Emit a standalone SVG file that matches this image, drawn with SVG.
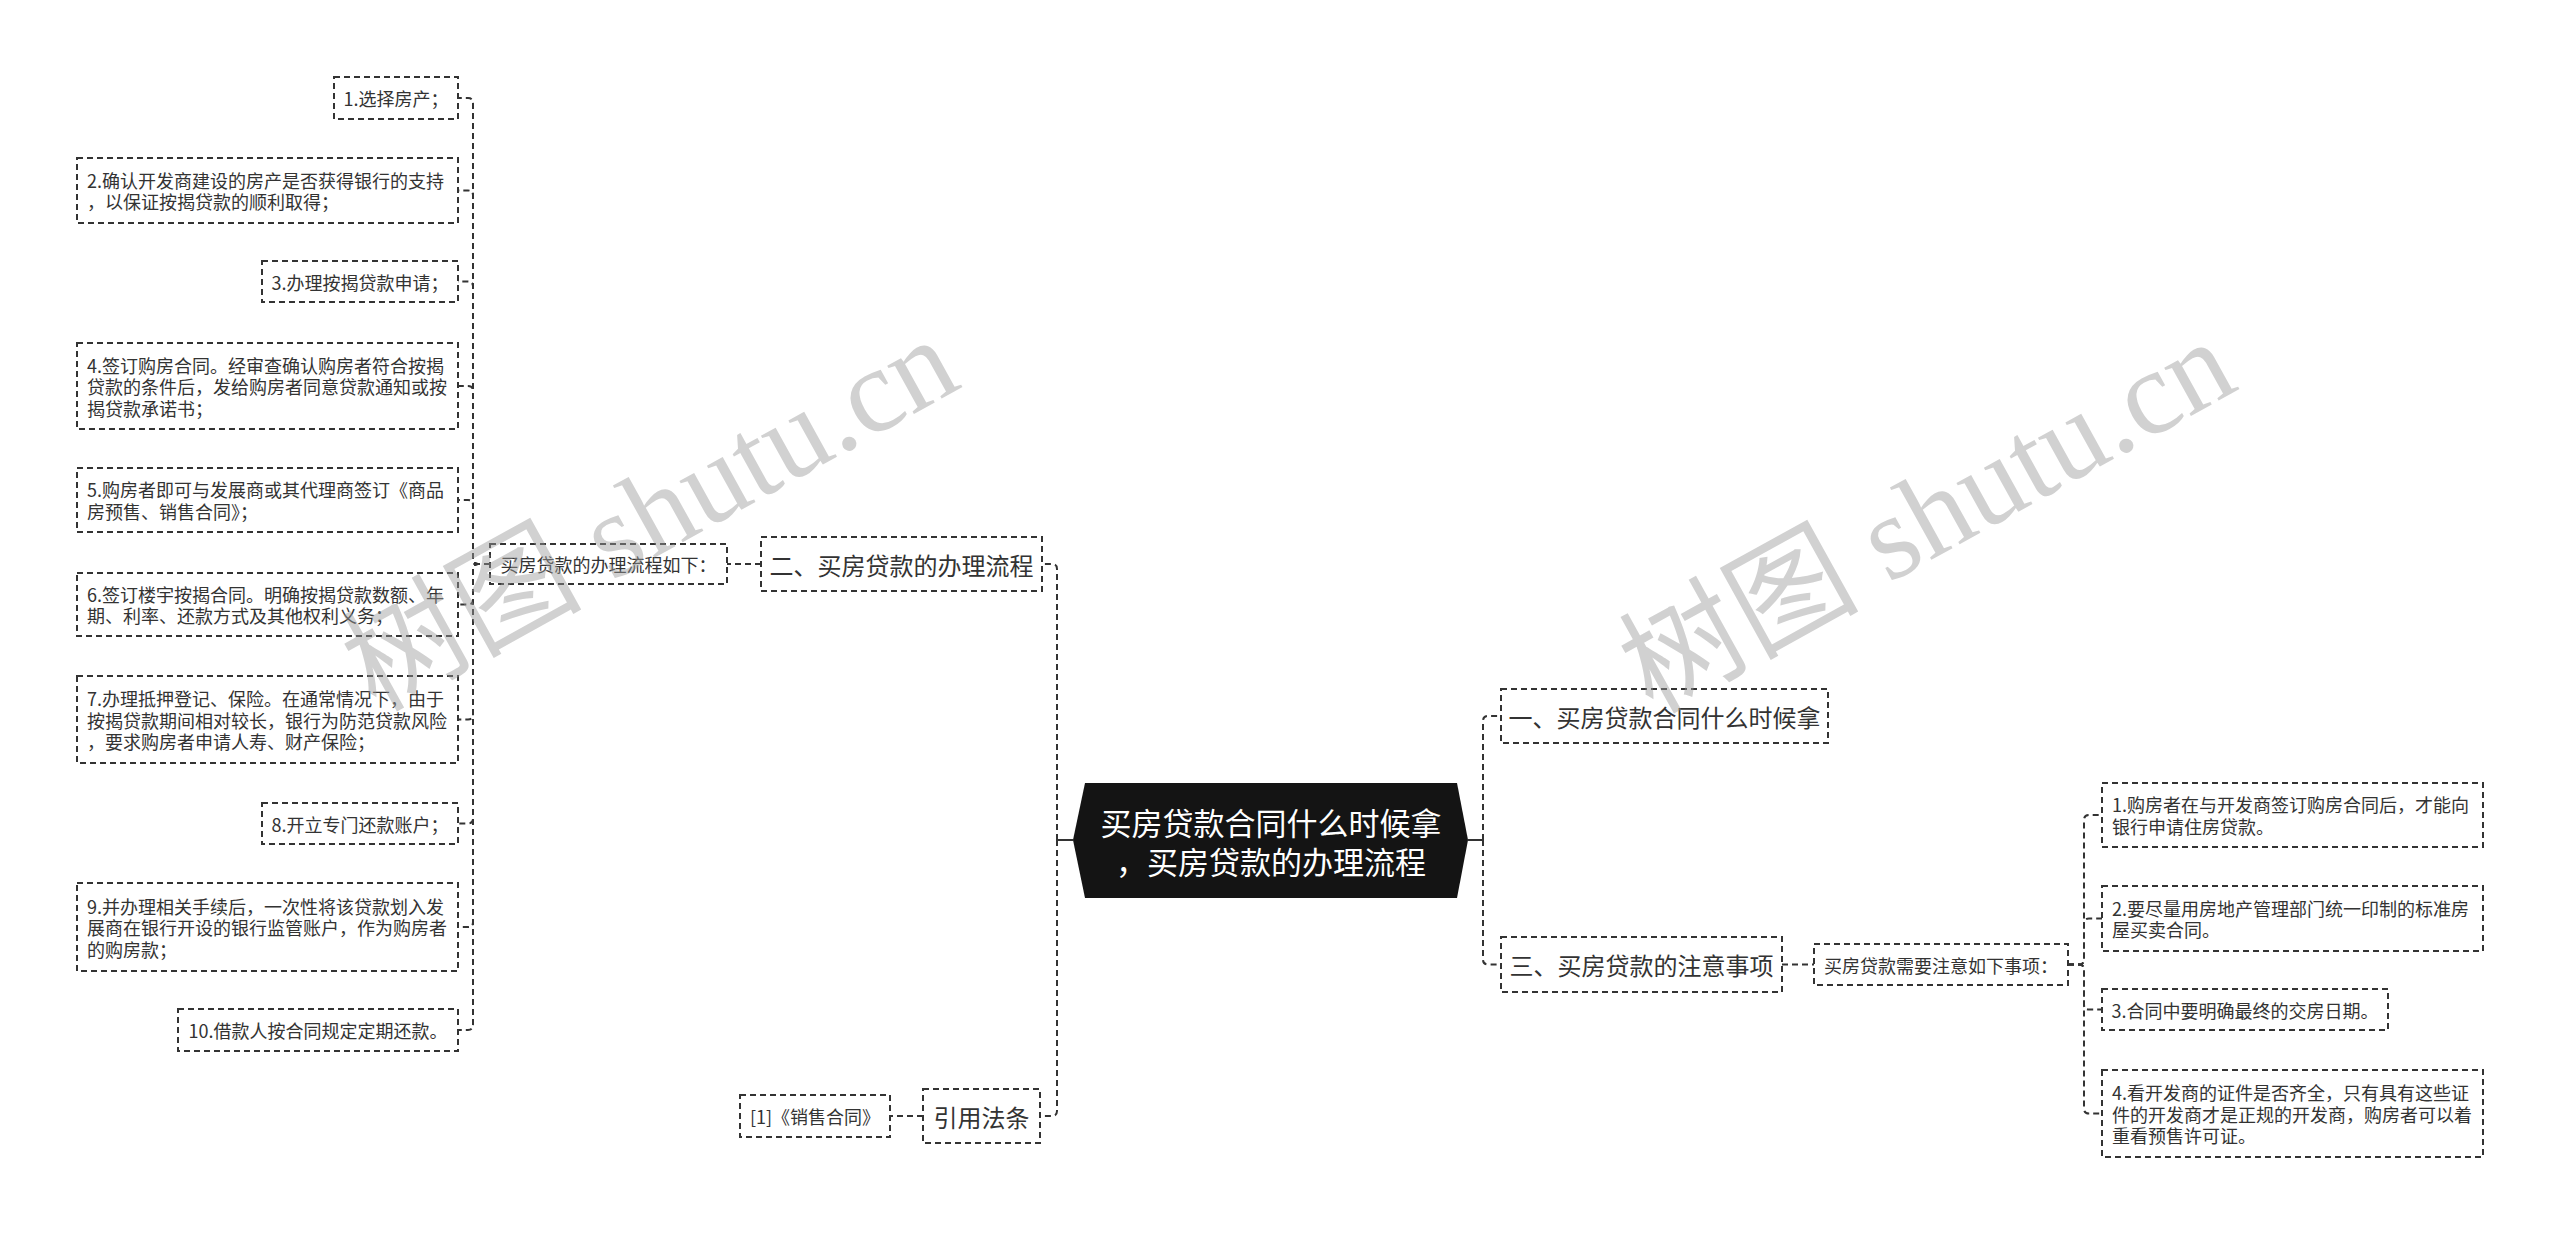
<svg xmlns="http://www.w3.org/2000/svg" width="2560" height="1236" viewBox="0 0 2560 1236">
<style>
.bg{fill:#ffffff}
.box{fill:#ffffff;stroke:#333333;stroke-width:2;stroke-dasharray:6 4}
.con{fill:none;stroke:#333333;stroke-width:2;stroke-dasharray:6 4}
.solid{fill:none;stroke:#333333;stroke-width:2}
.t{font-family:"Noto Sans CJK SC","Noto Sans",sans-serif;fill:#333333;dominant-baseline:central}
.s{font-size:18px}
.m{font-size:24px}
.c{text-anchor:middle}
.root{fill:#141414}
.rt{font-family:"Noto Sans CJK SC","Noto Sans",sans-serif;font-size:31px;fill:#ffffff;text-anchor:middle;dominant-baseline:central}
.wm{font-family:"Liberation Serif","Noto Sans CJK SC",serif;font-size:120px;fill:#9a9a9a;opacity:0.45;text-anchor:middle;dominant-baseline:central}
</style>
<rect class="bg" x="0" y="0" width="2560" height="1236"/>

<g id="connectors">
  <line class="solid" x1="1057" y1="840" x2="1073" y2="840"/>
  <line class="solid" x1="1468" y1="840" x2="1483" y2="840"/>
  <path class="con" d="M1057 840 V569 Q1057 564 1052 564 H1042"/>
  <path class="con" d="M1057 840 V1111 Q1057 1116 1052 1116 H1040"/>
  <path class="con" d="M1483 840 V721 Q1483 716 1488 716 H1501"/>
  <path class="con" d="M1483 840 V959.5 Q1483 964.5 1488 964.5 H1501"/>
  <path class="con" d="M761 564 H727"/>
  <path class="con" d="M923 1116 H890"/>
  <path class="con" d="M1782 964.5 H1814"/>
  <path class="con" d="M490 564 H478 Q473 564 473 559 V103 Q473 98 468 98 H458"/>
  <path class="con" d="M490 564 H478 Q473 564 473 559 V195.5 Q473 190.5 468 190.5 H458"/>
  <path class="con" d="M490 564 H478 Q473 564 473 559 V286.5 Q473 281.5 468 281.5 H458"/>
  <path class="con" d="M490 564 H478 Q473 564 473 559 V391 Q473 386 468 386 H458"/>
  <path class="con" d="M490 564 H478 Q473 564 473 559 V505 Q473 500 468 500 H458"/>
  <path class="con" d="M490 564 H478 Q473 564 473 569 V599.5 Q473 604.5 468 604.5 H458"/>
  <path class="con" d="M490 564 H478 Q473 564 473 569 V714.5 Q473 719.5 468 719.5 H458"/>
  <path class="con" d="M490 564 H478 Q473 564 473 569 V818.5 Q473 823.5 468 823.5 H458"/>
  <path class="con" d="M490 564 H478 Q473 564 473 569 V922 Q473 927 468 927 H458"/>
  <path class="con" d="M490 564 H478 Q473 564 473 569 V1025 Q473 1030 468 1030 H458"/>
  <path class="con" d="M2068 964.5 H2079 Q2084 964.5 2084 959.5 V820 Q2084 815 2089 815 H2102"/>
  <path class="con" d="M2068 964.5 H2079 Q2084 964.5 2084 959.5 V923.5 Q2084 918.5 2089 918.5 H2102"/>
  <path class="con" d="M2068 964.5 H2079 Q2084 964.5 2084 969.5 V1004.5 Q2084 1009.5 2089 1009.5 H2102"/>
  <path class="con" d="M2068 964.5 H2079 Q2084 964.5 2084 969.5 V1108.5 Q2084 1113.5 2089 1113.5 H2102"/>
</g>

<g id="root">
  <polygon class="root" points="1085,783 1457,783 1468,840 1457,898 1085,898 1073,840"/>
  <text class="rt" x="1271" y="821">买房贷款合同什么时候拿</text>
  <text class="rt" x="1271" y="860">，买房贷款的办理流程</text>
</g>

<g id="n-two">
  <rect class="box" x="761" y="537" width="281" height="54"/>
  <text class="t m c" x="901.5" y="564">二、买房贷款的办理流程</text>
</g>
<g id="n-flow">
  <rect class="box" x="490" y="544" width="237" height="40"/>
  <text class="t s c" x="608.5" y="564">买房贷款的办理流程如下：</text>
</g>
<g id="n-law">
  <rect class="box" x="923" y="1089" width="117" height="54"/>
  <text class="t m c" x="981.5" y="1116">引用法条</text>
</g>
<g id="n-law1">
  <rect class="box" x="740" y="1095" width="150" height="42"/>
  <text class="t s c" x="815" y="1116">[1]《销售合同》</text>
</g>
<g id="n-one">
  <rect class="box" x="1501" y="689" width="327" height="54"/>
  <text class="t m c" x="1664.5" y="716">一、买房贷款合同什么时候拿</text>
</g>
<g id="n-three">
  <rect class="box" x="1501" y="937" width="281" height="55"/>
  <text class="t m c" x="1641.5" y="964.5">三、买房贷款的注意事项</text>
</g>
<g id="n-note">
  <rect class="box" x="1814" y="944" width="254" height="41"/>
  <text class="t s c" x="1941" y="964.5">买房贷款需要注意如下事项：</text>
</g>

<g id="b1">
  <rect class="box" x="334" y="77" width="124" height="42"/>
  <text class="t s c" x="396" y="98">1.选择房产；</text>
</g>
<g id="b2">
  <rect class="box" x="77" y="158" width="381" height="65"/>
  <text class="t s" x="87" y="179.75">2.确认开发商建设的房产是否获得银行的支持</text>
  <text class="t s" x="87" y="201.25">，以保证按揭贷款的顺利取得；</text>
</g>
<g id="b3">
  <rect class="box" x="262" y="261" width="196" height="41"/>
  <text class="t s c" x="360" y="281.5">3.办理按揭贷款申请；</text>
</g>
<g id="b4">
  <rect class="box" x="77" y="343" width="381" height="86"/>
  <text class="t s" x="87" y="364.5">4.签订购房合同。经审查确认购房者符合按揭</text>
  <text class="t s" x="87" y="386">贷款的条件后，发给购房者同意贷款通知或按</text>
  <text class="t s" x="87" y="407.5">揭贷款承诺书；</text>
</g>
<g id="b5">
  <rect class="box" x="77" y="468" width="381" height="64"/>
  <text class="t s" x="87" y="489.25">5.购房者即可与发展商或其代理商签订《商品</text>
  <text class="t s" x="87" y="510.75">房预售、销售合同》；</text>
</g>
<g id="b6">
  <rect class="box" x="77" y="573" width="381" height="63"/>
  <text class="t s" x="87" y="593.75">6.签订楼宇按揭合同。明确按揭贷款数额、年</text>
  <text class="t s" x="87" y="615.25">期、利率、还款方式及其他权利义务；</text>
</g>
<g id="b7">
  <rect class="box" x="77" y="676" width="381" height="87"/>
  <text class="t s" x="87" y="698">7.办理抵押登记、保险。在通常情况下，由于</text>
  <text class="t s" x="87" y="719.5">按揭贷款期间相对较长，银行为防范贷款风险</text>
  <text class="t s" x="87" y="741">，要求购房者申请人寿、财产保险；</text>
</g>
<g id="b8">
  <rect class="box" x="262" y="803" width="196" height="41"/>
  <text class="t s c" x="360" y="823.5">8.开立专门还款账户；</text>
</g>
<g id="b9">
  <rect class="box" x="77" y="883" width="381" height="88"/>
  <text class="t s" x="87" y="905.5">9.并办理相关手续后，一次性将该贷款划入发</text>
  <text class="t s" x="87" y="927">展商在银行开设的银行监管账户，作为购房者</text>
  <text class="t s" x="87" y="948.5">的购房款；</text>
</g>
<g id="b10">
  <rect class="box" x="178" y="1009" width="280" height="42"/>
  <text class="t s c" x="318" y="1030">10.借款人按合同规定定期还款。</text>
</g>

<g id="r1">
  <rect class="box" x="2102" y="783" width="381" height="64"/>
  <text class="t s" x="2112" y="804.25">1.购房者在与开发商签订购房合同后，才能向</text>
  <text class="t s" x="2112" y="825.75">银行申请住房贷款。</text>
</g>
<g id="r2">
  <rect class="box" x="2102" y="886" width="381" height="65"/>
  <text class="t s" x="2112" y="907.75">2.要尽量用房地产管理部门统一印制的标准房</text>
  <text class="t s" x="2112" y="929.25">屋买卖合同。</text>
</g>
<g id="r3">
  <rect class="box" x="2102" y="989" width="286" height="41"/>
  <text class="t s c" x="2245" y="1009.5">3.合同中要明确最终的交房日期。</text>
</g>
<g id="r4">
  <rect class="box" x="2102" y="1070" width="381" height="87"/>
  <text class="t s" x="2112" y="1092">4.看开发商的证件是否齐全，只有具有这些证</text>
  <text class="t s" x="2112" y="1113.5">件的开发商才是正规的开发商，购房者可以着</text>
  <text class="t s" x="2112" y="1135">重看预售许可证。</text>
</g>

<g id="watermarks">
  <text class="wm" x="650" y="514" transform="rotate(-29 650 514)">树图 shutu.cn</text>
  <text class="wm" x="1927" y="516" transform="rotate(-29 1927 516)">树图 shutu.cn</text>
</g>
</svg>
